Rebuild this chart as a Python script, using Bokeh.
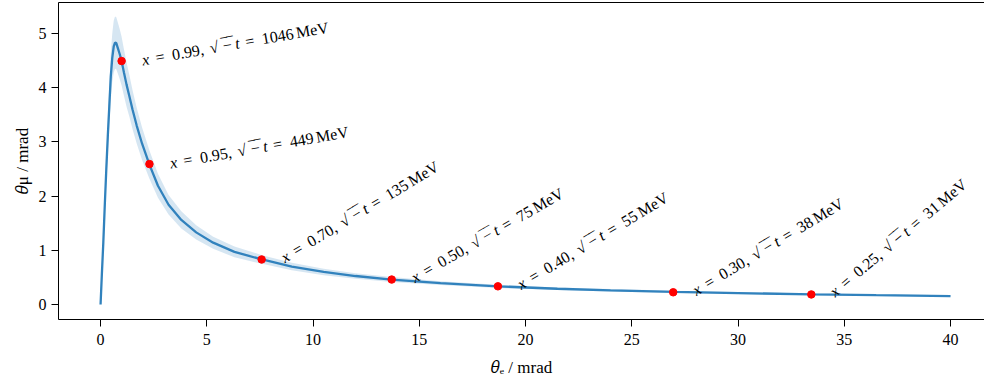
from bokeh.plotting import figure
from bokeh.models import Range1d, FixedTicker, ColumnDataSource, LinearAxis
from bokeh.core.properties import value
from bokeh.embed import file_html
from bokeh.resources import INLINE
import math

# curve: theta_e [mrad] -> theta_mu [mrad]
theta_e = [0, 0.06, 0.13, 0.2, 0.27, 0.34, 0.41, 0.48, 0.55, 0.62,
           0.68, 0.74, 0.82, 0.9, 0.99, 1.1, 1.22, 1.35, 1.5, 1.7,
           1.95, 2.3, 2.7, 3.2, 3.8, 4.5, 5.3, 6.3, 7.6, 9,
           10.5, 12, 13.7, 16, 18.7, 21.5, 24, 27, 30, 33.5,
           36.5, 40]
theta_mu = [0, 0.55, 1.15, 1.85, 2.5, 3.1, 3.65, 4.2, 4.55, 4.76,
            4.83, 4.82, 4.72, 4.62, 4.49, 4.28, 4.06, 3.85, 3.6, 3.3,
            2.97, 2.58, 2.19, 1.84, 1.56, 1.33, 1.14, 0.97, 0.83, 0.70,
            0.60, 0.525, 0.46, 0.395, 0.335, 0.29, 0.262, 0.232, 0.21, 0.187,
            0.172, 0.155]
band_hi = [0, 0.6, 1.27, 2.04, 2.75, 3.41, 4.02, 4.62, 5.0, 5.24,
           5.31, 5.3, 5.19, 5.08, 4.94, 4.71, 4.47, 4.24, 3.96, 3.63,
           3.27, 2.84, 2.41, 2.02, 1.72, 1.46, 1.25, 1.07, 0.91, 0.77,
           0.66, 0.575, 0.505, 0.43, 0.365, 0.315, 0.285, 0.252, 0.228, 0.203,
           0.187, 0.168]
band_lo = [0, 0.5, 1.03, 1.66, 2.25, 2.79, 3.29, 3.78, 4.1, 4.28,
           4.35, 4.34, 4.25, 4.16, 4.04, 3.85, 3.65, 3.47, 3.24, 2.97,
           2.67, 2.32, 1.97, 1.66, 1.40, 1.20, 1.03, 0.87, 0.75, 0.63,
           0.54, 0.475, 0.415, 0.36, 0.305, 0.265, 0.239, 0.212, 0.192, 0.171,
           0.157, 0.142]

# marked points
pt_e = [0.99, 2.3, 7.58, 13.7, 18.7, 26.95, 33.45]
pt_mu = [4.49, 2.59, 0.83, 0.46, 0.335, 0.225, 0.185]
pt_x = ["0.99", "0.95", "0.70", "0.50", "0.40", "0.30", "0.25"]
pt_sqrt_t = ["1046", "449", "135", "75", "55", "38", "31"]
label_angle_deg = [10, 10, 31, 30, 31, 31, 40]

x_ticks = [0, 5, 10, 15, 20, 25, 30, 35, 40]
y_ticks = [0, 1, 2, 3, 4, 5]
x_title = "\U0001D703\u2091 / mrad"
y_title = "\U0001D703\u03BC / mrad"

SERIF = "Liberation Serif"
LINE = "#3182bd"

p = figure(frame_width=926, frame_height=317,
           x_range=Range1d(-1.98, 41.6), y_range=Range1d(-0.277, 5.57),
           output_backend="svg", toolbar_location=None,
           min_border_left=58, min_border_right=0, min_border_top=2,
           min_border_bottom=63, background_fill_color="white")

p.xgrid.visible = False
p.ygrid.visible = False
p.outline_line_color = None

xax = p.below[0]
yax = p.left[0]

p.varea(x=theta_e, y1=band_lo, y2=band_hi, fill_color=LINE, fill_alpha=0.2)
p.line(theta_e, theta_mu, line_color=LINE, line_width=2.3)
p.scatter(pt_e, pt_mu, size=7.5, fill_color="red", line_color="red")

# annotation pieces, laid out along the rotated baseline (math-like spacing)
FS = 16.0
BX, BY = 20.5, -1.0
pieces = {"normal": dict(x=[], y=[], text=[], angle=[], xo=[], yo=[]),
          "italic": dict(x=[], y=[], text=[], angle=[], xo=[], yo=[]),
          "bar": dict(x=[], y=[], text=[], angle=[], xo=[], yo=[])}
for xe, ym, xs, ts, ad in zip(pt_e, pt_mu, pt_x, pt_sqrt_t, label_angle_deg):
    a = math.radians(ad)
    toks = [("x", 0.0, "italic"), ("=", 0.85, "normal"), (xs + ",", 1.906, "normal"),
            ("\u221A", 4.295, "normal"), ("\u2212", 5.128, "normal"),
            ("t", 5.906, "italic"), ("=", 6.545, "normal"), (ts, 7.601, "normal"),
            ("MeV", 7.601 + 0.5 * len(ts) + 0.167, "normal"),
            ("\u203E\u203E", 5.06, "bar")]
    for txt, em, kind in toks:
        d = em * FS
        c = pieces[kind]
        c["x"].append(xe); c["y"].append(ym); c["text"].append(txt)
        c["angle"].append(a)
        c["xo"].append(BX + d * math.cos(a))
        c["yo"].append(BY - d * math.sin(a))

p.text(x="x", y="y", text="text", angle="angle", x_offset="xo", y_offset="yo",
       source=ColumnDataSource(pieces["normal"]), text_align="left",
       text_baseline="alphabetic", text_font=value(SERIF),
       text_font_size="16px", text_color="black")
p.text(x="x", y="y", text="text", angle="angle", x_offset="xo", y_offset="yo",
       source=ColumnDataSource(pieces["italic"]), text_align="left",
       text_baseline="alphabetic", text_font=value(SERIF), text_font_style="italic",
       text_font_size="16px", text_color="black")
p.text(x="x", y="y", text="text", angle="angle", x_offset="xo", y_offset="yo",
       source=ColumnDataSource(pieces["bar"]), text_align="left",
       text_baseline="alphabetic", text_font=value(SERIF),
       text_font_size="18px", text_color="black")

for ax in (xax, yax):
    ax.axis_line_color = "black"
    ax.axis_line_width = 1
    ax.major_tick_line_color = "black"
    ax.major_tick_out = 7
    ax.major_tick_in = 0
    ax.minor_tick_line_color = None
    ax.major_label_text_font = SERIF
    ax.major_label_text_font_size = "16px"
    ax.major_label_text_color = "black"
    ax.axis_label_text_font = SERIF
    ax.axis_label_text_font_size = "17px"
    ax.axis_label_text_font_style = "normal"
    ax.axis_label_text_color = "black"

xax.ticker = FixedTicker(ticks=x_ticks)
yax.ticker = FixedTicker(ticks=y_ticks)
xax.major_label_standoff = 7
yax.major_label_standoff = 5
xax.axis_label = x_title
yax.axis_label = y_title
xax.axis_label_standoff = 10
yax.axis_label_standoff = 4

# top spine only (the right spine lies outside the picture)
top = LinearAxis(ticker=FixedTicker(ticks=[]), major_tick_out=0, major_tick_in=0,
                 minor_tick_line_color=None, major_tick_line_color=None,
                 major_label_text_font_size="0px", major_label_standoff=0,
                 axis_label=None, axis_line_color="black", axis_line_width=1)
p.add_layout(top, "above")

open("out.html", "w").write(file_html(p, INLINE))
